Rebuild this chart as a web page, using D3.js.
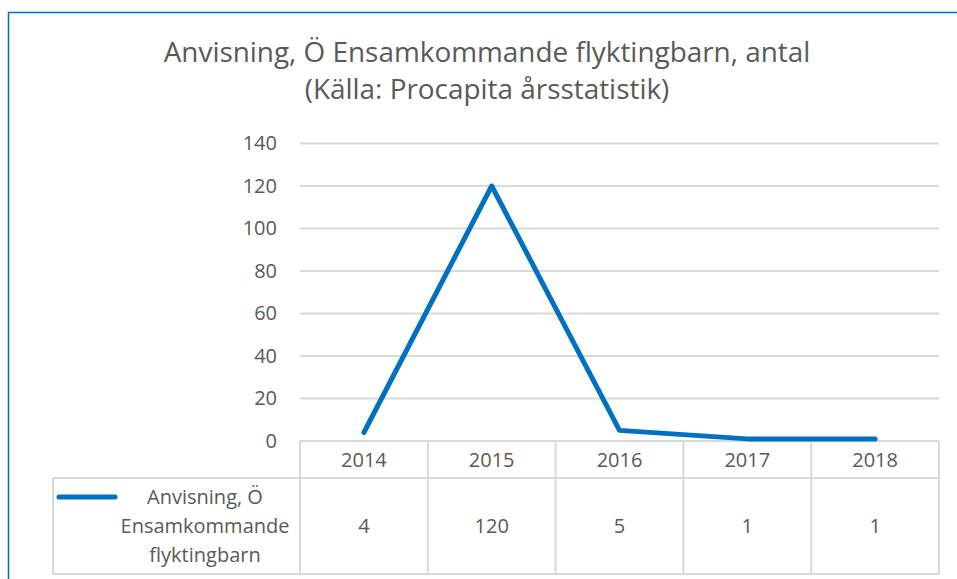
<!DOCTYPE html>
<html>
<head>
<meta charset="utf-8">
<script src="https://cdn.jsdelivr.net/npm/d3@7"></script>
<style>
  html, body { margin: 0; padding: 0; background: #fff; }
  svg { display: block; }
  text { font-family: "Open Sans", Lato, sans-serif; fill: #595959; }
</style>
</head>
<body>
<svg id="chart" width="957" height="579"></svg>
<script>
const titleLines = ["Anvisning, Ö Ensamkommande flyktingbarn, antal", "(Källa: Procapita årsstatistik)"];
const categories = ["2014", "2015", "2016", "2017", "2018"];
const values = [4, 120, 5, 1, 1];
const seriesName = ["Anvisning, Ö", "Ensamkommande", "flyktingbarn"];
const yTicks = [0, 20, 40, 60, 80, 100, 120, 140];

const svg = d3.select("#chart");
const plot = { left: 300, right: 939, top: 143.5, bottom: 441 };
const headerH = 37, rowBottom = 574, legendLeft = 53;
const gridColor = "#d9d9d9", blue = "#0070C0";
const FONT = "'Open Sans', Lato, sans-serif";

// outer border (top and left visible)
svg.append("rect").attr("x", 8.5).attr("y", 12.5).attr("width", 1000).attr("height", 1000)
  .attr("fill", "none").attr("stroke", blue).attr("stroke-width", 1.5);

// title
const title = svg.append("text").attr("text-anchor", "middle").style("font-size", "27.9px");
title.selectAll("tspan").data(titleLines).join("tspan")
  .attr("x", 487).attr("y", (d, i) => 62 + i * 36.5).text(d => d);

const x = d3.scaleBand().domain(categories).range([plot.left, plot.right]);
const y = d3.scaleLinear().domain([0, 140]).range([plot.bottom, plot.top]);

// gridlines
svg.append("g").selectAll("line").data(yTicks.filter(d => d > 0)).join("line")
  .attr("x1", plot.left).attr("x2", plot.right)
  .attr("y1", d => y(d)).attr("y2", d => y(d))
  .attr("stroke", gridColor).attr("stroke-width", 2);

// y axis labels
const yAxis = svg.append("g").attr("transform", `translate(${plot.left},0)`)
  .call(d3.axisLeft(y).tickValues(yTicks).tickSize(0).tickPadding(23));
yAxis.select(".domain").remove();
yAxis.selectAll("text").style("font-size", "20px").attr("fill", "#595959")
  .style("font-family", FONT);

// data table
const tbl = svg.append("g").attr("stroke", gridColor).attr("stroke-width", 2).attr("fill", "none");
const rowTop = plot.bottom + headerH;
tbl.append("line").attr("x1", plot.left).attr("x2", plot.right).attr("y1", plot.bottom).attr("y2", plot.bottom);
tbl.append("line").attr("x1", legendLeft).attr("x2", plot.right).attr("y1", rowTop).attr("y2", rowTop);
tbl.append("line").attr("x1", legendLeft).attr("x2", plot.right).attr("y1", rowBottom).attr("y2", rowBottom);
tbl.append("line").attr("x1", legendLeft).attr("x2", legendLeft).attr("y1", rowTop).attr("y2", rowBottom);
tbl.selectAll("line.v").data(categories.concat(["end"])).join("line").attr("class", "v")
  .attr("x1", (d, i) => i < categories.length ? x(d) : plot.right)
  .attr("x2", (d, i) => i < categories.length ? x(d) : plot.right)
  .attr("y1", plot.bottom).attr("y2", rowBottom);

// header labels
svg.append("g").selectAll("text").data(categories).join("text")
  .attr("x", d => x(d) + x.bandwidth() / 2).attr("y", plot.bottom + headerH / 2)
  .attr("dy", "0.35em").attr("text-anchor", "middle").style("font-size", "20px").text(d => d);

// values row
svg.append("g").selectAll("text").data(values).join("text")
  .attr("x", (d, i) => x(categories[i]) + x.bandwidth() / 2).attr("y", (rowTop + rowBottom) / 2)
  .attr("dy", "0.35em").attr("text-anchor", "middle").style("font-size", "20px").text(d => d);

// legend key in table
svg.append("line").attr("x1", 59).attr("x2", 115).attr("y1", 497).attr("y2", 497)
  .attr("stroke", blue).attr("stroke-width", 5).attr("stroke-linecap", "round");
svg.append("g").selectAll("text").data(seriesName).join("text")
  .attr("x", 205).attr("y", (d, i) => 497 + i * 29).attr("dy", "0.35em")
  .attr("text-anchor", "middle").style("font-size", "20px").text(d => d);

// series line
const line = d3.line().x((d, i) => x(categories[i]) + x.bandwidth() / 2).y(d => y(d));
svg.append("path").datum(values).attr("d", line)
  .attr("fill", "none").attr("stroke", blue).attr("stroke-width", 5)
  .attr("stroke-linecap", "round").attr("stroke-linejoin", "round");
</script>
</body>
</html>
